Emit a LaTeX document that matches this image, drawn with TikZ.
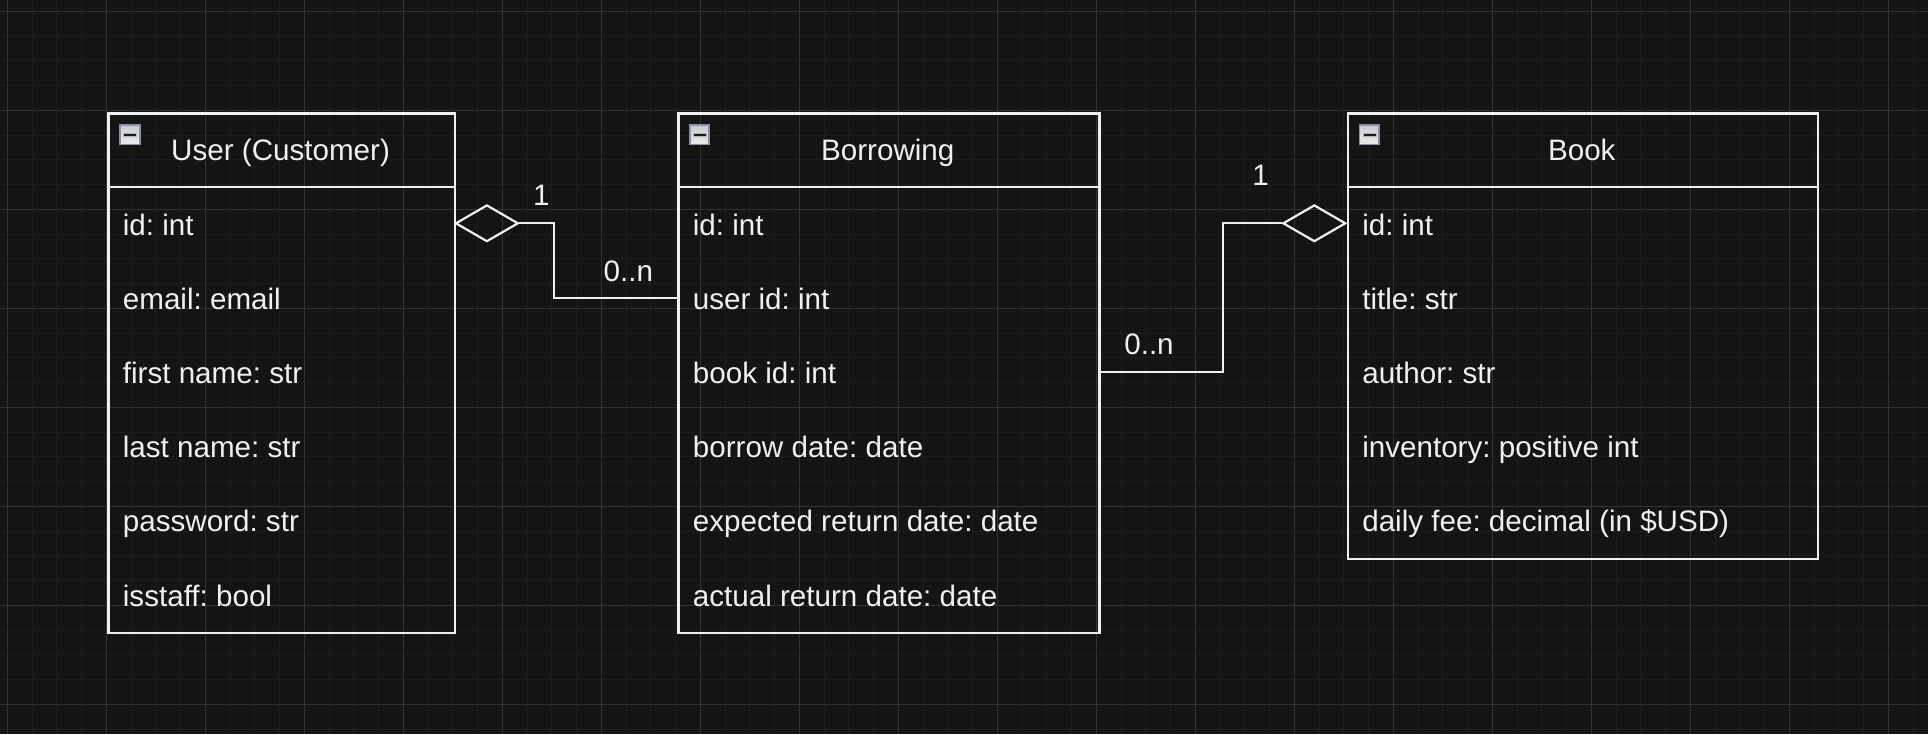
\documentclass[tikz,border=0pt]{standalone}
\usepackage{fontspec}
\setmainfont{Liberation Sans}
\usetikzlibrary{shapes.geometric}
\definecolor{bg}{HTML}{141414}
\definecolor{gminor}{HTML}{1C1C1C}
\definecolor{gmajor}{HTML}{323232}
\definecolor{fg}{HTML}{F0F0F0}
\definecolor{iconedge}{HTML}{8A91A3}
\definecolor{icontop}{HTML}{C9CBD0}
\definecolor{iconbot}{HTML}{EDEDED}
\frenchspacing
\begin{document}
\frenchspacing
\begin{tikzpicture}[x=1pt,y=-1pt,
  txt/.style={font=\fontsize{29.6pt}{35pt}\selectfont\frenchspacing, text=fg, inner sep=0pt},
  rowtxt/.style={txt, anchor=base west},
  titletxt/.style={txt, anchor=base},
  lbl/.style={txt, anchor=center},
  classbox/.style={draw=fg, line width=2.2pt, rectangle, inner sep=0pt, anchor=north west},
  divider/.style={draw=fg, line width=2.2pt},
  iconbox/.style={rectangle, draw=iconedge, line width=1.8pt, top color=icontop, bottom color=iconbot, minimum width=19.5pt, minimum height=19.5pt, inner sep=0pt},
  iconbar/.style={rectangle, fill=black!90, draw=gray!60, line width=0.4pt, minimum width=13pt, minimum height=2.6pt, inner sep=0pt},
  diam/.style={diamond, draw=fg, line width=2.2pt, inner sep=0pt, minimum width=62.8pt, minimum height=36.7pt},
  conn/.style={draw=fg, line width=2.2pt}
]
\fill[bg] (0,0) rectangle (1928,734);
\useasboundingbox (0,0) rectangle (1928,734);
% grid
\foreach \i in {0,...,77} {\draw[gminor, line width=1pt] ({7.3+24.75*\i},0) -- ({7.3+24.75*\i},734);}
\foreach \i in {0,...,29} {\draw[gminor, line width=1pt] (0,{11.3+24.75*\i}) -- (1928,{11.3+24.75*\i});}
\foreach \i in {0,...,19} {\draw[gmajor, line width=1pt] ({7.3+99*\i},0) -- ({7.3+99*\i},734);}
\foreach \i in {0,...,7} {\draw[gmajor, line width=1pt] (0,{11.3+99*\i}) -- (1928,{11.3+99*\i});}

% ---- User ----
\node[classbox, minimum width=346.7pt, minimum height=519.5pt] (user) at (107.3,112.3) {};
\draw[divider] (user.west |- 0,186.7) -- (user.east |- 0,186.7);
\node[iconbox] (usericon) at (130.0,134.7) {};
\node[iconbar] (userbar) at (usericon.center) {};
\node[titletxt] (usertitle) at (280.6,160.2) {User (Customer)};
\foreach \t [count=\i] in {id: int, email: email, first name: str, last name: str, password: str, isstaff: bool} {
  \coordinate (user-c\i) at (107.3,{186.7+74.2*(\i-0.5)});
  \node[rowtxt] (user-r\i) at (122.7,{186.7+74.2*(\i-0.5)+11.2}) {\t};
}

% ---- Borrowing ----
\node[classbox, minimum width=421pt, minimum height=519.5pt] (borrowing) at (677.3,112.3) {};
\draw[divider] (borrowing.west |- 0,186.7) -- (borrowing.east |- 0,186.7);
\node[iconbox] (boricon) at (699.5,134.7) {};
\node[iconbar] (borbar) at (boricon.center) {};
\node[titletxt] (bortitle) at (887.8,160.2) {Borrowing};
\foreach \t [count=\i] in {id: int, user id: int, book id: int, borrow date: date, expected return date: date, actual return date: date} {
  \coordinate (bor-c\i) at (677.3,{186.7+74.2*(\i-0.5)});
  \node[rowtxt] (bor-r\i) at (692.7,{186.7+74.2*(\i-0.5)+11.2}) {\t};
}

% ---- Book ----
\node[classbox, minimum width=470.3pt, minimum height=445.2pt] (book) at (1346.7,112.3) {};
\draw[divider] (book.west |- 0,186.7) -- (book.east |- 0,186.7);
\node[iconbox] (bookicon) at (1369.2,134.7) {};
\node[iconbar] (bookbar) at (bookicon.center) {};
\node[titletxt] (booktitle) at (1581.8,160.2) {Book};
\foreach \t [count=\i] in {id: int, title: str, author: str, inventory: positive int, {daily fee: decimal (in \$USD)}} {
  \coordinate (book-c\i) at (1346.7,{186.7+74.2*(\i-0.5)});
  \node[rowtxt] (book-r\i) at (1362.1,{186.7+74.2*(\i-0.5)+11.2}) {\t};
}

% ---- connectors ----
\node[diam] (d1) at (486.9,223.3) {};
\coordinate (k1) at (554,0);
\draw[conn] (d1.east) -- (k1 |- d1.east) |- (borrowing.west |- bor-c2);
\node[lbl] (l1a) at (541.3,195) {1};
\node[lbl] (l1b) at (628.3,271.7) {0..n};

\node[diam] (d2) at (1314.3,223.3) {};
\coordinate (k2) at (1223.3,0);
\draw[conn] (borrowing.east |- bor-c3) -| (k2 |- d2.west) -- (d2.west);
\node[lbl] (l2a) at (1260.5,175) {1};
\node[lbl] (l2b) at (1149,344.5) {0..n};
\end{tikzpicture}
\end{document}
